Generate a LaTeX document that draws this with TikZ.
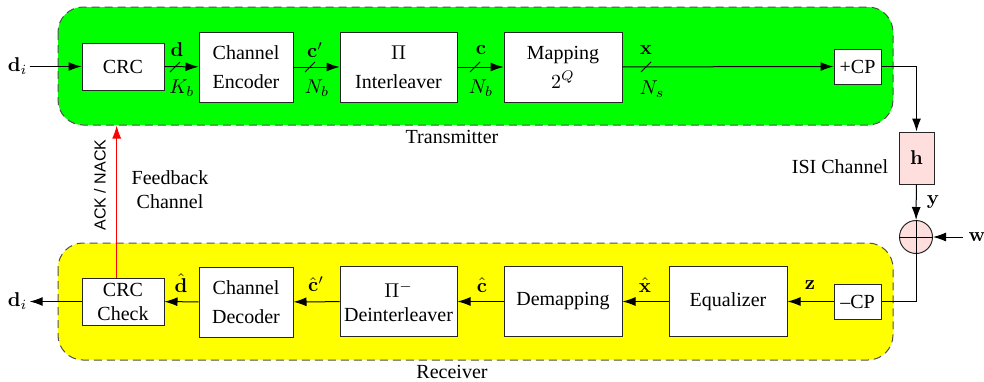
\documentclass[tikz,border=0pt]{standalone}
\usepackage[no-math]{fontspec}
\setmainfont{Liberation Serif}
\setsansfont{Liberation Sans}
\usepackage{xcolor}
\usepackage{tikz}
\usetikzlibrary{shapes,arrows,arrows.meta}
\definecolor{txgreen}{RGB}{0,255,0}
\definecolor{rxyellow}{RGB}{255,255,0}
\definecolor{chanpink}{RGB}{255,222,222}
\definecolor{regiongray}{RGB}{80,80,80}
\tikzstyle{block} = [rectangle, draw=black!85, fill=white, align=center,
    inner sep=0pt, minimum width=47pt, minimum height=35pt]
\tikzstyle{cpbox} = [rectangle, draw=black!85, fill=white,
    inner sep=0pt, minimum width=23.5pt, minimum height=17.5pt]
\tikzstyle{chan} = [rectangle, draw=black!85, fill=chanpink,
    inner sep=0pt, minimum width=17.5pt, minimum height=26pt]
\tikzstyle{adder} = [circle, draw=black!85, fill=chanpink,
    inner sep=0pt, minimum size=16.5pt]
\tikzstyle{region} = [draw=regiongray, dash pattern=on 4pt off 2.5pt,
    rounded corners=12.5pt]
\tikzstyle{sig} = [inner sep=1pt]
\tikzstyle{line} = [draw, -{Latex[length=6.5pt,width=4.5pt]}]
\tikzstyle{fbline} = [draw=red, -{Latex[length=6.5pt,width=4.5pt]}]

\begin{document}
\begin{tikzpicture}[x=0.5pt, y=-0.5pt, line width=0.5pt]
    \useasboundingbox (0,0) rectangle (984,381);
    % Regions
    \path [region, fill=txgreen] (58,7) rectangle (893,125);
    \path [region, fill=rxyellow] (58,243) rectangle (893,360);
    \node (txlabel) at (452,137) {Transmitter};
    \node (rxlabel) at (452,372) {Receiver};
    % Place nodes
    \node [block, minimum width=41pt, minimum height=23.5pt] (crc) at (123,66.5) {CRC};
    \node [block] (enc) at (246,67) {Channel\\[2.5pt]Encoder};
    \node [block, minimum width=58.5pt] (intl) at (398.5,67) {$\Pi$\\[2.5pt]Interleaver};
    \node [block, minimum width=59pt] (map) at (563,67) {Mapping\\[2.5pt]$2^Q$};
    \node [cpbox] (addcp) at (857.5,66.5) {+CP};
    \node [chan] (h) at (916.5,158) {$\mathbf{h}$};
    \node [adder] (sum) at (916,237) {};
    \node [cpbox] (remcp) at (857.5,301.5) {--CP};
    \node [block, minimum width=59pt] (eq) at (728,301.5) {Equalizer};
    \node [block, minimum width=59pt] (demap) at (563,301.5) {Demapping};
    \node [block, minimum width=58.5pt] (deintl) at (398.5,301.5) {$\Pi^-$\\Deinterleaver};
    \node [block] (dec) at (246,302) {Channel\\[2.5pt]Decoder};
    \node [block, minimum width=41pt, minimum height=23.5pt] (crcchk) at (123,301.5) {CRC\\Check};
    % Signal labels
    \node [sig] (din) at (17.5,66.5) {$\mathbf{d}_i$};
    \node [sig] (dout) at (17.5,301.5) {$\mathbf{d}_i$};
    \node [sig] (w) at (977,237) {$\mathbf{w}$};
    \node [sig] (ylab) at (933,202) {$\mathbf{y}$};
    \node (isi) at (840,167) {ISI Channel};
    \node [align=center] (fbtext) at (170,190) {Feedback\\Channel};
    \node [rotate=90, font=\sffamily\footnotesize] (ack) at (100,185) {ACK / NACK};
    \node [sig] (dlab) at (177,50) {$\mathbf{d}$};
    \node [sig] (kb) at (182,88) {$K_b$};
    \node [sig] (cplab) at (315,50) {$\mathbf{c}'$};
    \node [sig] (nb1) at (317,88) {$N_b$};
    \node [sig] (clab) at (481,50) {$\mathbf{c}$};
    \node [sig] (nb2) at (481,88) {$N_b$};
    \node [sig] (xlab) at (646,50) {$\mathbf{x}$};
    \node [sig] (ns) at (652,89) {$N_s$};
    \node [sig] (dhat) at (181,283) {$\hat{\mathbf{d}}$};
    \node [sig] (cphat) at (316,284) {$\hat{\mathbf{c}}'$};
    \node [sig] (chat) at (482,285) {$\hat{\mathbf{c}}$};
    \node [sig] (xhat) at (645,285) {$\hat{\mathbf{x}}$};
    \node [sig] (zlab) at (810,285) {$\mathbf{z}$};
    \coordinate (wstart) at (963,237);
    \coordinate (fbtip) at (116.7,125.5);
    % Draw edges
    \path [line] (din) -- (crc);
    \path [line] (crc) -- (enc);
    \path [line] (enc) -- (intl);
    \path [line] (intl) -- (map);
    \path [line] (map) -- (addcp);
    \path [line] (addcp) -| (h);
    \path [line] (h) -- (sum);
    \path [line] (wstart) -- (sum);
    \draw (sum.north) -- (sum.south) (sum.west) -- (sum.east);
    \draw (sum) |- (remcp);
    \path [line] (remcp) -- (eq);
    \path [line] (eq) -- (demap);
    \path [line] (demap) -- (deintl);
    \path [line] (deintl) -- (dec);
    \path [line] (dec) -- (crcchk);
    \path [line] (crcchk) -- (dout);
    \path [fbline] (crcchk.north -| fbtip) -- (fbtip);
    % Bus width marks
    \foreach \x in {175,310,475,646}
        \draw (\x-5,72) -- (\x+5,62);
\end{tikzpicture}
\end{document}
